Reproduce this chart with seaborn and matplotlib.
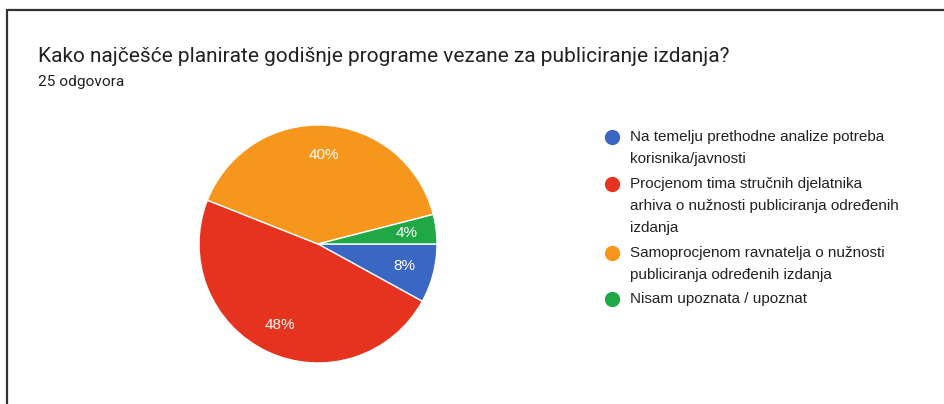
import matplotlib
matplotlib.use("Agg")
import matplotlib.pyplot as plt
from matplotlib.lines import Line2D
import seaborn as sns

title = "Kako najčešće planirate godišnje programe vezane za publiciranje izdanja?"
subtitle = "25 odgovora"
categories = [
    "Na temelju prethodne analize potreba\nkorisnika/javnosti",
    "Procjenom tima stručnih djelatnika\narhiva o nužnosti publiciranja određenih\nizdanja",
    "Samoprocjenom ravnatelja o nužnosti\npubliciranja određenih izdanja",
    "Nisam upoznata / upoznat",
]
values = [8, 48, 40, 4]
colors = ["#3a66c4", "#e5331f", "#f7961c", "#1fa845"]

sns.set_theme(style="white")
plt.rcParams["font.family"] = ["Roboto", "DejaVu Sans"]
arial = ["Liberation Sans", "DejaVu Sans"]

W, H = 945, 404
fig = plt.figure(figsize=(W / 100, H / 100), dpi=100)
fig.patch.set_facecolor("white")

def fx(px):
    return px / W

def fy(py):
    return 1 - py / H

# pie axes: center (318,244), radius 119
cx, cy, r = 318, 244, 119
ax = fig.add_axes([fx(cx - r), fy(cy + r), 2 * r / W, 2 * r / H])
wedges, texts, autotexts = ax.pie(
    values, colors=colors, startangle=0, counterclock=False,
    autopct=lambda p: f"{p:.0f}%", pctdistance=0.75,
    wedgeprops=dict(edgecolor="white", linewidth=1.0),
    textprops=dict(color="white", fontsize=11, family=arial),
)
ax.set_xlim(-1, 1)
ax.set_ylim(-1, 1)
ax.set_aspect("equal")
ax.axis("off")

# title and subtitle
fig.text(fx(38), fy(57), title, fontsize=15.0, color="#202124", va="center", ha="left")
fig.text(fx(38), fy(82), subtitle, fontsize=11.1, color="#202124", va="center", ha="left")

# legend
line_h = 22.5
y = 137
for lab, col in zip(categories, colors):
    fig.add_artist(Line2D([fx(612)], [fy(y)], marker="o", markersize=10,
                          color=col, linestyle="none", transform=fig.transFigure))
    for k, line in enumerate(lab.split("\n")):
        fig.text(fx(630), fy(y + k * line_h), line, fontsize=11.0, color="#222222",
                 va="center", ha="left", family=arial)
    y += len(lab.split("\n")) * line_h + 1.5

# frame lines (top and left)
fig.add_artist(Line2D([fx(7.5), 1], [fy(9.5), fy(9.5)], color="#333333", linewidth=1.6,
                      transform=fig.transFigure))
fig.add_artist(Line2D([fx(7.5), fx(7.5)], [fy(9.5), 0], color="#333333", linewidth=1.6,
                      transform=fig.transFigure))

fig.savefig("out.png", dpi=100)
